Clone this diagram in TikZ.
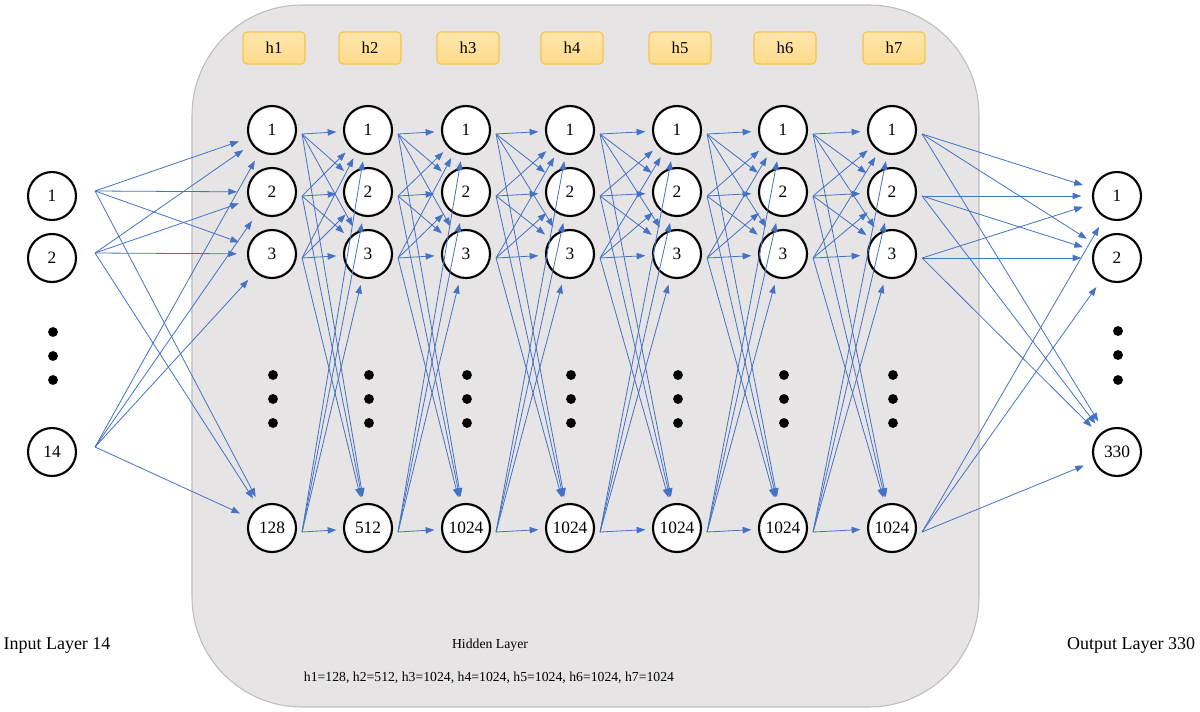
\documentclass[tikz,border=0pt]{standalone}
\usepackage{fontspec}
\setmainfont{Liberation Serif}
\usetikzlibrary{arrows.meta,calc}
\definecolor{conncol}{HTML}{4472C4}
\definecolor{panel}{HTML}{E6E4E5}
\definecolor{panelline}{HTML}{BDBDBD}
\definecolor{hfill}{HTML}{FFDB8A}
\definecolor{hline}{HTML}{F6C543}
\tikzset{
 neuron/.style={circle, draw=black, line width=1.6pt, fill=white, minimum size=36pt, inner sep=0pt, font=\fontsize{13}{15}\selectfont},
 hdr/.style={draw=hline, top color=hfill!70!white, bottom color=hfill, rounded corners=3pt, minimum width=46.5pt, minimum height=24pt, line width=0.8pt, font=\fontsize{12.5}{14}\selectfont},
 link/.style={draw=conncol, line width=0.6pt, -{Triangle[length=6.5pt,width=4.8pt]}, shorten >=5pt},
 caption/.style={font=\fontsize{13.5}{16}\selectfont},
 smallcap/.style={font=\fontsize{10.3}{12}\selectfont},
}
\begin{document}
\begin{tikzpicture}[x=0.75pt,y=-0.75pt]
\useasboundingbox (0,0) rectangle (1200,711);
\draw[panelline, fill=panel, line width=0.8pt, rounded corners=82.5pt] (192,5) rectangle (979,707);

% layer headers
\foreach \x [count=\i] in {274,370,468,572,680,785,894}
  \node[hdr] (L\i) at (\x,48) {h\i};

% hidden neurons
\foreach \x/\b [count=\c] in {272/128,368/512,466/1024,570/1024,677/1024,783/1024,892/1024} {
  \foreach \y [count=\r] in {130,192,254}
    \node[neuron] (H\c-\r) at (\x,\y) {\r};
  \node[neuron] (H\c-4) at (\x,528) {\b};
  \foreach \y in {375,399,423}
    \fill (\x+1,\y) circle (3.7pt);
  \foreach \r in {1,...,4}
    \coordinate (F\c-\r) at ($(H\c-\r.east)+(5,4)$);
}

% input neurons
\foreach \y/\t [count=\i] in {196/1,258/2,452/14} {
  \node[neuron] (I\i) at (52,\y) {\t};
  \coordinate (FI\i) at ($(I\i.east)+(18,-5)$);
}
\foreach \y in {332,356,380}
  \fill (53,\y) circle (3.7pt);

% output neurons
\foreach \y/\t [count=\i] in {196/1,258/2,452/330}
  \node[neuron] (O\i) at (1117,\y) {\t};
\foreach \y in {331,355,380}
  \fill (1118,\y) circle (3.7pt);

% input -> h1
\foreach \i in {1,2,3}
  \foreach \j in {1,...,4}
    \draw[link, shorten >=7.5pt] (FI\i) -- (H1-\j);

% hidden -> hidden
\foreach \c [evaluate=\c as \n using int(\c+1)] in {1,...,6}
  \foreach \r in {1,...,4}
    \foreach \j in {1,...,4}
      \draw[link] (F\c-\r) -- (H\n-\j);

% h7 -> output
\foreach \r in {1,...,4}
  \foreach \j in {1,2,3}
    \draw[link, shorten >=8pt] (F7-\r) -- (O\j);

% captions
\node[caption] (tin) at (57,645) {Input Layer 14};
\node[caption] (tout) at (1131,645) {Output Layer 330};
\node[smallcap] (thid) at (490,645) {Hidden Layer};
\node[smallcap] (tsz) at (489,678) {h1=128, h2=512, h3=1024, h4=1024, h5=1024, h6=1024, h7=1024};
\end{tikzpicture}
\end{document}
